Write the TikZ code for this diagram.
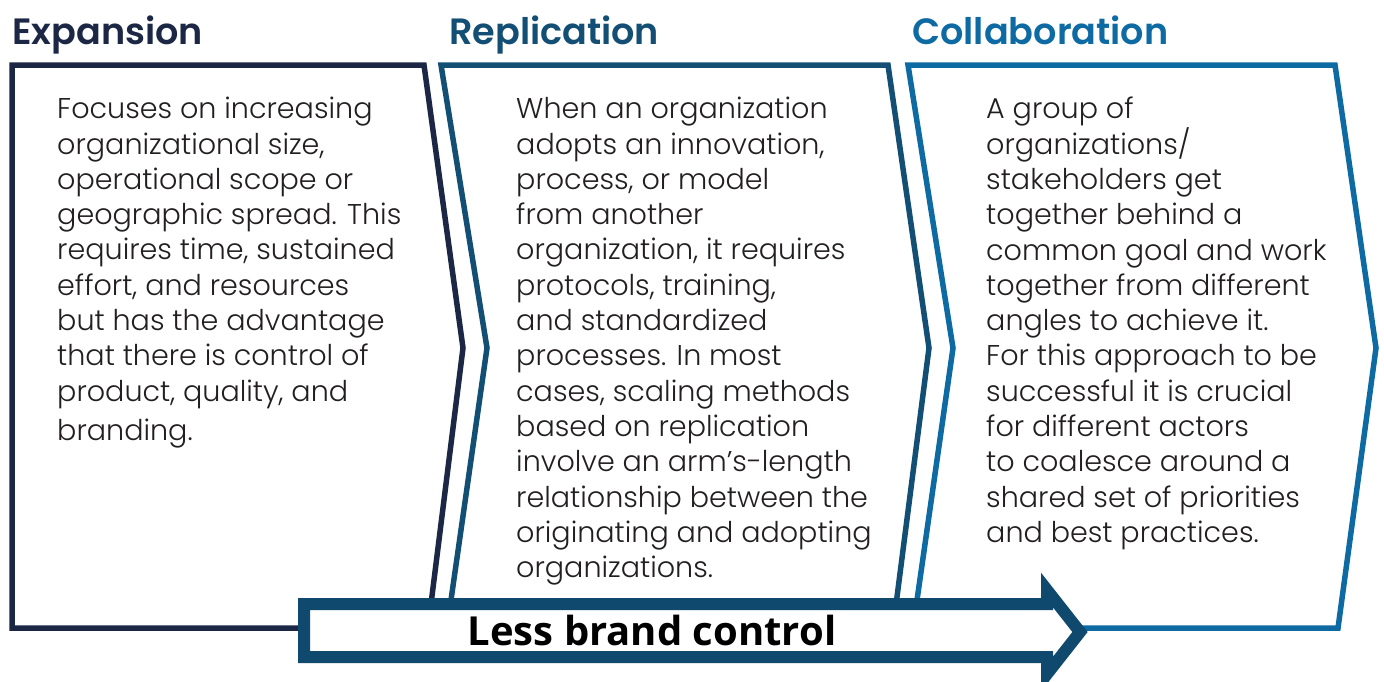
\documentclass[tikz,border=0pt]{standalone}
\usepackage{fontspec}
\setmainfont{Poppins}[UprightFont=* Light, BoldFont=* SemiBold]
\newfontfamily\labelfont{Open Sans}
\definecolor{navyA}{HTML}{1B2744}
\definecolor{navyB}{HTML}{134E74}
\definecolor{navyC}{HTML}{0E6AA2}
\definecolor{arrowblue}{HTML}{0F4A6E}
\definecolor{bodytext}{HTML}{231F20}
\tikzset{
  chevron/.style={line width=5.5pt, line join=miter, fill=white},
  heading/.style={anchor=base west, inner sep=0pt, font=\fontsize{36.6}{40}\selectfont\bfseries},
  bodybox/.style={anchor=north west, inner sep=0pt, align=left, text=bodytext,
    font=\fontsize{28.6}{35.3}\selectfont},
  bigarrow/.style={line width=12pt, draw=arrowblue, fill=white, line join=miter}
}
\begin{document}
\begin{tikzpicture}[x=1pt,y=-1pt]
\useasboundingbox (0,0) rectangle (1384,681);

% three chevron panels
\draw[chevron, draw=navyA] (12,65) -- (424,65) -- (463,348) -- (428,628) -- (12,628) -- cycle;
\draw[chevron, draw=navyB] (441,65) -- (888,65) -- (929,348) -- (893,628) -- (447,628) -- (487,348) -- cycle;
\draw[chevron, draw=navyC] (908,65) -- (1335,65) -- (1376,348) -- (1338,628) -- (913,628) -- (953,348) -- cycle;

% headings
\node[heading, text=navyA] (h1) at (12,44) {Expansion};
\node[heading, text=navyB] (h2) at (449,44) {Replication};
\node[heading, text=navyC] (h3) at (912,44) {Collaboration};

% panel texts
\node[bodybox] (t1) at (57,97) {Focuses on increasing\\organizational size,\\operational scope or\\geographic spread. This\\requires time, sustained\\effort, and resources\\but has the advantage\\that there is control of\\product, quality, and\\[4.5pt]branding.};
\node[bodybox] (t2) at (516,97) {When an organization\\adopts an innovation,\\process, or model\\from another\\organization, it requires\\protocols, training,\\and standardized\\processes. In most\\cases, scaling methods\\based on replication\\involve an arm’s-length\\relationship between the\\originating and adopting\\organizations.};
\node[bodybox] (t3) at (986,97) {A group of\\organizations/\\stakeholders get\\together behind a\\common goal and work\\together from different\\angles to achieve it.\\For this approach to be\\successful it is crucial\\for different actors\\to coalesce around a\\shared set of priorities\\and best practices.};

% block arrow along the bottom
\draw[bigarrow] (304,604) -- (1047,604) -- (1047,590) -- (1080,632) -- (1047,674) -- (1047,657) -- (304,657) -- cycle;
\node[inner sep=0pt, font=\labelfont\bfseries\fontsize{40}{44}\selectfont, text=black] (lbl) at (652,630) {Less brand control};
\end{tikzpicture}
\end{document}
